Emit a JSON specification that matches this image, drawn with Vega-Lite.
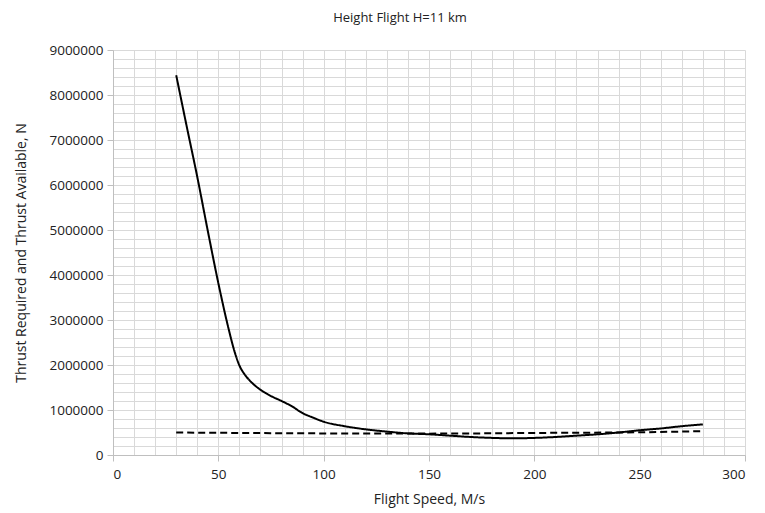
{
  "$schema": "https://vega.github.io/schema/vega-lite/v6.json",
  "autosize": "none",
  "width": 632,
  "height": 405,
  "padding": {"left": 113, "top": 50, "right": 20, "bottom": 58},
  "background": "white",
  "title": {"text": "Height Flight H=11 km", "font": "Open Sans", "fontSize": 13, "fontWeight": "normal", "color": "#222222", "offset": 18, "dx": -29},
  "config": {
    "view": {"stroke": null},
    "axis": {"labelFont": "Open Sans", "titleFont": "Open Sans", "labelFontSize": 13.5, "titleFontSize": 14, "titleFontWeight": "normal", "labelColor": "#222222", "titleColor": "#222222", "gridColor": "#d9d9d9", "gridWidth": 1, "domainColor": "#bfbfbf", "tickColor": "#bfbfbf", "tickSize": 6}
  },
  "data": {"values": [
    {"speed": 30, "thrust": 8440000, "series": "Required"},
    {"speed": 35, "thrust": 7300000, "series": "Required"},
    {"speed": 40, "thrust": 6180000, "series": "Required"},
    {"speed": 45, "thrust": 4980000, "series": "Required"},
    {"speed": 50, "thrust": 3820000, "series": "Required"},
    {"speed": 55, "thrust": 2780000, "series": "Required"},
    {"speed": 57.5, "thrust": 2330000, "series": "Required"},
    {"speed": 60, "thrust": 1990000, "series": "Required"},
    {"speed": 62.5, "thrust": 1790000, "series": "Required"},
    {"speed": 65, "thrust": 1650000, "series": "Required"},
    {"speed": 70, "thrust": 1450000, "series": "Required"},
    {"speed": 75, "thrust": 1310000, "series": "Required"},
    {"speed": 80, "thrust": 1200000, "series": "Required"},
    {"speed": 85, "thrust": 1080000, "series": "Required"},
    {"speed": 90, "thrust": 930000, "series": "Required"},
    {"speed": 95, "thrust": 830000, "series": "Required"},
    {"speed": 100, "thrust": 740000, "series": "Required"},
    {"speed": 110, "thrust": 640000, "series": "Required"},
    {"speed": 120, "thrust": 570000, "series": "Required"},
    {"speed": 130, "thrust": 520000, "series": "Required"},
    {"speed": 140, "thrust": 480000, "series": "Required"},
    {"speed": 150, "thrust": 460000, "series": "Required"},
    {"speed": 160, "thrust": 430000, "series": "Required"},
    {"speed": 170, "thrust": 400000, "series": "Required"},
    {"speed": 180, "thrust": 380000, "series": "Required"},
    {"speed": 190, "thrust": 370000, "series": "Required"},
    {"speed": 200, "thrust": 380000, "series": "Required"},
    {"speed": 210, "thrust": 400000, "series": "Required"},
    {"speed": 220, "thrust": 430000, "series": "Required"},
    {"speed": 230, "thrust": 460000, "series": "Required"},
    {"speed": 240, "thrust": 500000, "series": "Required"},
    {"speed": 250, "thrust": 550000, "series": "Required"},
    {"speed": 260, "thrust": 590000, "series": "Required"},
    {"speed": 270, "thrust": 640000, "series": "Required"},
    {"speed": 280, "thrust": 680000, "series": "Required"},
    {"speed": 30, "thrust": 500000, "series": "Available"},
    {"speed": 60, "thrust": 490000, "series": "Available"},
    {"speed": 100, "thrust": 480000, "series": "Available"},
    {"speed": 150, "thrust": 475000, "series": "Available"},
    {"speed": 200, "thrust": 490000, "series": "Available"},
    {"speed": 250, "thrust": 505000, "series": "Available"},
    {"speed": 280, "thrust": 530000, "series": "Available"}
  ]},
  "mark": {"type": "line", "color": "black", "strokeWidth": 2, "interpolate": "monotone"},
  "encoding": {
    "x": {"field": "speed", "type": "quantitative", "scale": {"domain": [0, 300], "nice": false, "zero": true},
      "axis": {"title": "Flight Speed, M/s", "values": [0,10,20,30,40,50,60,70,80,90,100,110,120,130,140,150,160,170,180,190,200,210,220,230,240,250,260,270,280,290,300],
        "labelExpr": "datum.value % 50 === 0 ? datum.label : ''", "tickOpacity": {"condition": {"test": "datum.value % 50 === 0", "value": 1}, "value": 0},
        "labelPadding": 6, "titlePadding": 12, "format": "d"}},
    "y": {"field": "thrust", "type": "quantitative", "scale": {"domain": [0, 9000000], "nice": false},
      "axis": {"title": "Thrust Required and Thrust Available, N", "values": [0,200000,400000,600000,800000,1000000,1200000,1400000,1600000,1800000,2000000,2200000,2400000,2600000,2800000,3000000,3200000,3400000,3600000,3800000,4000000,4200000,4400000,4600000,4800000,5000000,5200000,5400000,5600000,5800000,6000000,6200000,6400000,6600000,6800000,7000000,7200000,7400000,7600000,7800000,8000000,8200000,8400000,8600000,8800000,9000000],
        "format": "d", "labelExpr": "datum.value % 1000000 === 0 ? datum.label : ''", "tickOpacity": {"condition": {"test": "datum.value % 1000000 === 0", "value": 1}, "value": 0},
        "labelPadding": 4, "titlePadding": 20}},
    "strokeDash": {"field": "series", "type": "nominal", "scale": {"domain": ["Required", "Available"], "range": [[1, 0], [7, 4]]}, "legend": null}
  }
}
